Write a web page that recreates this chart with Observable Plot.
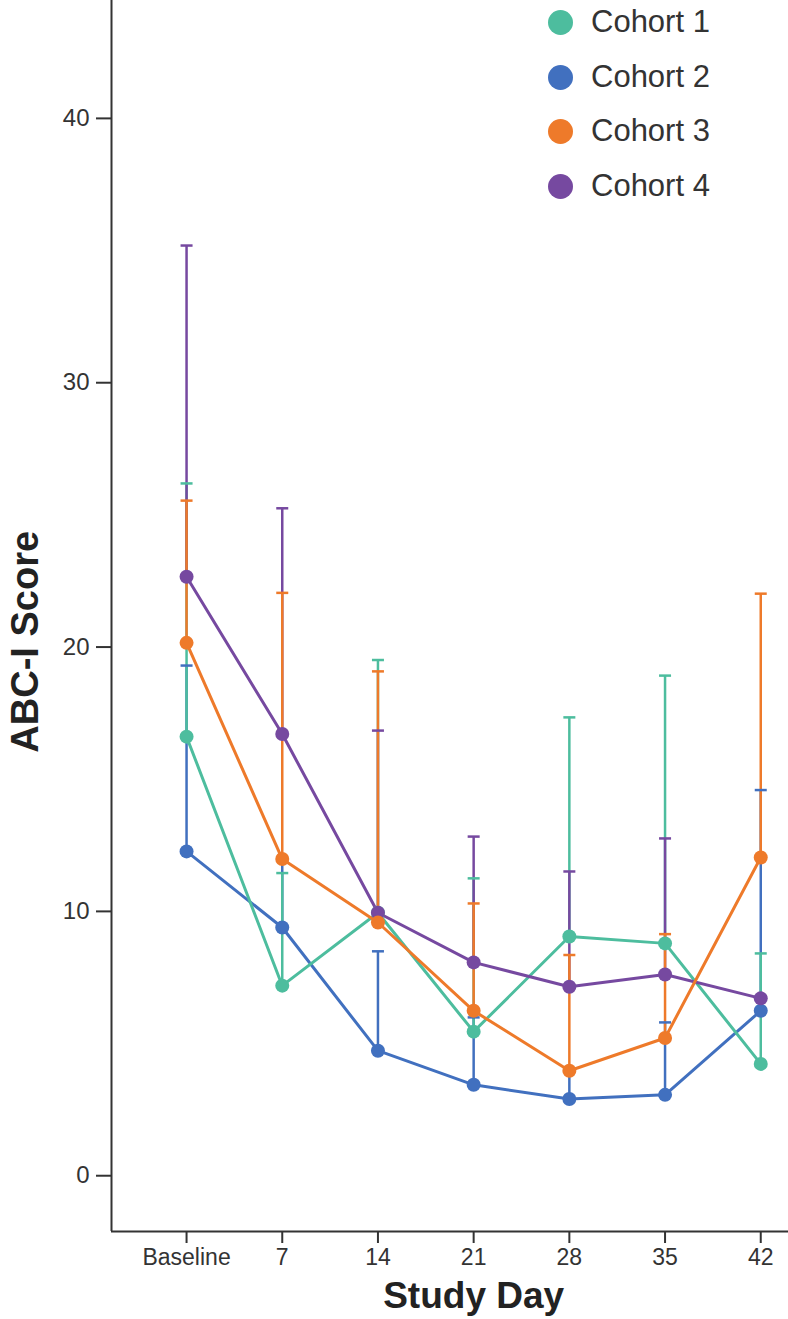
<!DOCTYPE html>
<html>
<head>
<meta charset="utf-8">
<script src="https://cdn.jsdelivr.net/npm/d3@7"></script>
<script src="https://cdn.jsdelivr.net/npm/@observablehq/plot@0.6"></script>
<style>
  html, body { margin: 0; padding: 0; background: #fff; }
  #wrap { position: relative; width: 788px; height: 1319px; font-family: "Liberation Sans", Arial, sans-serif; }
  .lg { position: absolute; left: 548px; height: 40px; display: flex; align-items: center; }
  .lg .sw { width: 25px; height: 25px; border-radius: 50%; margin-right: 18px; }
  .lg .tx { font-size: 31px; color: #333; white-space: nowrap; }
</style>
</head>
<body>
<div id="wrap"></div>
<script>
// ---- data ----
const cohorts = ["Cohort 1", "Cohort 2", "Cohort 3", "Cohort 4"];
const cohortColors = ["#4dbd9e", "#4170bf", "#ee7a2a", "#7649a0"];
const drawOrder = ["Cohort 2", "Cohort 1", "Cohort 4", "Cohort 3"];
const dayLabels = ["Baseline", "7", "14", "21", "28", "35", "42"];
const dayValues = [0, 7, 14, 21, 28, 35, 42];
const yTicks = [0, 10, 20, 30, 40];

const cohort1Mean  = [16.61, 7.19, 9.95, 5.45, 9.05, 8.79, 4.23];
const cohort1Upper = [26.19, 11.45, 19.51, 11.25, 17.34, 18.92, 8.41];
const cohort2Mean  = [12.27, 9.39, 4.73, 3.44, 2.90, 3.06, 6.24];
const cohort2Upper = [19.30, 12.00, 8.49, 5.99, 3.95, 5.80, 14.59];
const cohort3Mean  = [20.16, 11.98, 9.58, 6.24, 3.97, 5.21, 12.04];
const cohort3Upper = [25.54, 22.05, 19.08, 10.30, 8.35, 9.14, 22.02];
const cohort4Mean  = [22.66, 16.71, 9.95, 8.07, 7.15, 7.61, 6.71];
const cohort4Upper = [35.19, 25.25, 16.84, 12.83, 11.51, 12.76, 6.80];

const xDomain = [-5.49, 44.03];
const yDomain = [-2.11, 44.46];

// ---- build table ----
const means = {"Cohort 1": cohort1Mean, "Cohort 2": cohort2Mean, "Cohort 3": cohort3Mean, "Cohort 4": cohort4Mean};
const uppers = {"Cohort 1": cohort1Upper, "Cohort 2": cohort2Upper, "Cohort 3": cohort3Upper, "Cohort 4": cohort4Upper};
const data = [];
for (const c of drawOrder) {
  dayValues.forEach((d, i) => data.push({cohort: c, day: d, mean: means[c][i], upper: uppers[c][i]}));
}

const capSymbol = {
  draw(ctx, size) {
    const r = Math.sqrt(size / Math.PI);
    ctx.moveTo(-r, 0);
    ctx.lineTo(r, 0);
  }
};

const chart = Plot.plot({
  width: 788,
  height: 1319,
  marginLeft: 111,
  marginRight: 0,
  marginTop: 0,
  marginBottom: 88,
  style: {fontFamily: "'Liberation Sans', Arial, sans-serif", color: "#333", background: "#fff"},
  x: {domain: xDomain},
  y: {domain: yDomain},
  color: {domain: cohorts, range: cohortColors},
  marks: [
    Plot.axisY({ticks: yTicks, tickSize: 15, tickPadding: 7, fontSize: 24, strokeWidth: 2, label: null}),
    Plot.axisX({ticks: dayValues, tickFormat: (d) => dayLabels[dayValues.indexOf(d)], tickSize: 12, tickPadding: 5, fontSize: 23, strokeWidth: 2, label: null}),
    Plot.ruleX([xDomain[0]], {stroke: "#333", strokeWidth: 2}),
    Plot.ruleY([yDomain[0]], {stroke: "#333", strokeWidth: 2}),
    Plot.ruleX(data, {x: "day", y1: "mean", y2: "upper", stroke: "cohort", strokeWidth: 2.5}),
    Plot.dot(data, {x: "day", y: "upper", symbol: capSymbol, r: 6, stroke: "cohort", strokeWidth: 2.5, fill: "none"}),
    Plot.line(data, {x: "day", y: "mean", z: "cohort", stroke: "cohort", strokeWidth: 3}),
    Plot.dot(data, {x: "day", y: "mean", r: 7, fill: "cohort", stroke: "none"}),
    Plot.text(["Study Day"], {x: 21, frameAnchor: "bottom", dy: 76, text: (d) => d, fontSize: 37, fontWeight: "bold", fill: "#222"}),
    Plot.text(["ABC-I Score"], {y: 20.2, frameAnchor: "left", textAnchor: "middle", dx: -86, rotate: -90, text: (d) => d, fontSize: 38, fontWeight: "bold", fill: "#222"})
  ]
});

const wrap = document.getElementById("wrap");
wrap.appendChild(chart);

// legend
const legendCenters = [22, 77, 131, 186];
cohorts.forEach((c, i) => {
  const item = document.createElement("div");
  item.className = "lg";
  item.style.top = (legendCenters[i] - 20) + "px";
  const sw = document.createElement("span");
  sw.className = "sw";
  sw.style.background = cohortColors[i];
  const tx = document.createElement("span");
  tx.className = "tx";
  tx.textContent = c;
  item.appendChild(sw);
  item.appendChild(tx);
  wrap.appendChild(item);
});
</script>
</body>
</html>
